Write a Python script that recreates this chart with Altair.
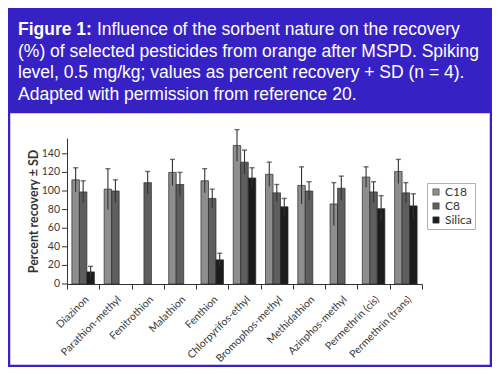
import altair as alt
import pandas as pd

compounds = ["Diazinon", "Parathion-methyl", "Fenitrothion", "Malathion", "Fenthion",
             "Chlorpyrifos-ethyl", "Bromophos-methyl", "Methidathion", "Azinphos-methyl",
             "Permethrin (cis)", "Permethrin (trans)"]
sorbents = ["C18", "C8", "Silica"]

c18 = [112, 102, None, 120, 111, 149, 118, 106, 86, 115, 121]
c18_sd = [13, 22, None, 14, 13, 17, 13, 20, 23, 11, 13]
c8 = [99, 100, 109, 107, 92, 131, 98, 100, 103, 99, 98]
c8_sd = [12, 12, 12, 13, 10, 13, 9, 10, 13, 11, 11]
silica = [13, None, None, None, 26, 114, 83, None, None, 81, 84]
silica_sd = [6, None, None, None, 7, 11, 9, None, None, 14, 13]

y_ticks = [0, 20, 40, 60, 80, 100, 120, 140]
colors = ["#8e8e8e", "#5e5e5e", "#1c1c1c"]

title_lines = [
    "(%) of selected pesticides from orange after MSPD. Spiking",
    "level, 0.5 mg/kg; values as percent recovery + SD (n = 4).",
    "Adapted with permission from reference 20.",
]

rows = []
for s, vals, sds in [("C18", c18, c18_sd), ("C8", c8, c8_sd), ("Silica", silica, silica_sd)]:
    for c, v, sd in zip(compounds, vals, sds):
        if v is not None:
            rows.append({"compound": c, "sorbent": s, "value": v,
                         "lo": v - sd, "hi": v + sd})
df = pd.DataFrame(rows)
ticks_df = pd.DataFrame({"tick": y_ticks, "label": [str(t) for t in y_ticks]})
one = pd.DataFrame({"k": [0]})

BLUE = "#3622c4"
W, H = 355, 146

x_axis = alt.Axis(title=None, labelAngle=-45, tickBand="extent",
                  labelFontSize=10.5, labelFont="Lato", labelColor="#3a3a3a",
                  labelPadding=5, tickSize=5, domainColor="#333",
                  tickColor="#333", labelAlign="right", labelBaseline="top",
                  labelOverlap=False)
y_axis = alt.Axis(values=y_ticks, title="Percent recovery ± SD", grid=False,
                  labels=False, ticks=False,
                  titleFont="Lato", titleFontSize=12.5, titleFontWeight="bold",
                  titleColor="#333", titlePadding=27, domainColor="#333")
x_scale = alt.Scale(domain=compounds, paddingInner=0, paddingOuter=0)
x_enc = alt.X("compound:N", sort=compounds, scale=x_scale, axis=x_axis)
xo_enc = alt.XOffset("sorbent:N",
                     scale=alt.Scale(domain=sorbents, paddingOuter=0.65, paddingInner=0))
y_scale = alt.Scale(domain=[0, 157], nice=False)

# blue banner and frame (decoration), page background is white
banner = alt.Chart(one).mark_rect(color=BLUE).encode(
    x=alt.value(-59), x2=alt.value(W + 70), y=alt.value(-130), y2=alt.value(-25))
frame = alt.Chart(one).mark_rect(fill=None, stroke=BLUE, strokeWidth=2.5).encode(
    x=alt.value(-58), x2=alt.value(W + 69), y=alt.value(-26), y2=alt.value(H + 82))

txt = dict(align="left", baseline="middle", font="Liberation Sans", fontSize=17.5,
           color="white")
t_bold = alt.Chart(one).mark_text(fontWeight="bold", **txt).encode(
    x=alt.value(-49), y=alt.value(-108), text=alt.value("Figure 1:"))
t_l1 = alt.Chart(one).mark_text(**txt).encode(
    x=alt.value(30), y=alt.value(-108),
    text=alt.value("Influence of the sorbent nature on the recovery"))
t_l2 = alt.Chart(one).mark_text(**txt).encode(
    x=alt.value(-49), y=alt.value(-86), text=alt.value(title_lines[0]))
t_l3 = alt.Chart(one).mark_text(**txt).encode(
    x=alt.value(-49), y=alt.value(-65), text=alt.value(title_lines[1]))
t_l4 = alt.Chart(one).mark_text(**txt).encode(
    x=alt.value(-49), y=alt.value(-43), text=alt.value(title_lines[2]))

# y ticks and labels drawn through the y scale
y_tick_marks = alt.Chart(ticks_df).mark_rule(color="#333", strokeWidth=1).encode(
    x=alt.value(-5), x2=alt.value(0),
    y=alt.Y("tick:Q", scale=y_scale, axis=y_axis))
y_tick_labels = alt.Chart(ticks_df).mark_text(
    align="right", baseline="middle", font="Lato", fontSize=10.5, color="#3a3a3a"
).encode(x=alt.value(-7), y=alt.Y("tick:Q", scale=y_scale, axis=y_axis), text="label:N")

bars = alt.Chart(df).mark_bar(stroke="#2a2a2a", strokeWidth=0.7).encode(
    x=x_enc, xOffset=xo_enc,
    y=alt.Y("value:Q", scale=y_scale, axis=y_axis),
    color=alt.Color("sorbent:N", scale=alt.Scale(domain=sorbents, range=colors),
                    legend=alt.Legend(title=None, orient="none", legendX=360, legendY=45,
                                      fillColor="white", strokeColor="#b0b0b0",
                                      padding=3, symbolType="square", symbolSize=40,
                                      symbolStrokeColor="#444", symbolStrokeWidth=0.6,
                                      labelFont="Lato", labelFontSize=12, labelOffset=3,
                                      labelColor="#333", rowPadding=2)),
)

err = alt.Chart(df).mark_rule(color="#333", strokeWidth=1.1).encode(
    x=x_enc, xOffset=xo_enc,
    y=alt.Y("lo:Q", scale=y_scale, axis=y_axis), y2="hi:Q")
caps = alt.Chart(df).mark_tick(color="#333", thickness=1.4, size=5).encode(
    x=x_enc, xOffset=xo_enc,
    y=alt.Y("hi:Q", scale=y_scale, axis=y_axis))

chart = alt.layer(banner, frame, t_bold, t_l1, t_l2, t_l3, t_l4,
                  bars, err, caps, y_tick_marks, y_tick_labels).properties(
    width=W, height=H, background="white",
    autosize=alt.AutoSizeParams(type="none"),
    padding={"left": 59, "top": 130, "right": 70, "bottom": 83},
).configure_view(strokeWidth=0)

chart.save("out.html", embed_options={"renderer": "svg", "actions": False})
